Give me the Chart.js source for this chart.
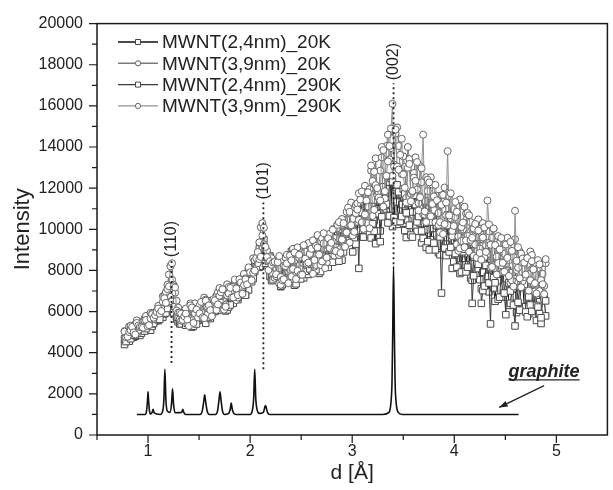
<!DOCTYPE html>
<html>
<head>
<meta charset="utf-8">
<title>MWNT diffraction</title>
<script src="https://cdn.jsdelivr.net/npm/chart.js@4.4.1/dist/chart.umd.min.js"></script>
<style>
  html, body { margin: 0; padding: 0; background: #fff; }
  canvas { display: block; }
</style>
</head>
<body>
<canvas id="xrdChart" width="613" height="490"></canvas>
<script>
// d spacing (Å) shared by the four MWNT scans
const dSpacing = [
  0.770, 0.785, 0.800, 0.815, 0.830, 0.845, 0.860, 0.875, 0.890, 0.905, 0.920, 0.935, 0.950, 0.965, 0.980, 0.995, 1.010, 1.025, 1.040, 1.055,
  1.070, 1.085, 1.100, 1.115, 1.130, 1.145, 1.160, 1.175, 1.190, 1.205, 1.220, 1.235, 1.250, 1.265, 1.280, 1.295, 1.310, 1.325, 1.340, 1.355,
  1.370, 1.385, 1.400, 1.415, 1.430, 1.445, 1.460, 1.475, 1.490, 1.505, 1.520, 1.535, 1.550, 1.565, 1.580, 1.595, 1.610, 1.625, 1.640, 1.655,
  1.670, 1.685, 1.700, 1.715, 1.730, 1.745, 1.760, 1.775, 1.790, 1.805, 1.820, 1.835, 1.850, 1.865, 1.880, 1.895, 1.910, 1.925, 1.940, 1.955,
  1.970, 1.985, 2.000, 2.015, 2.030, 2.045, 2.060, 2.075, 2.090, 2.105, 2.120, 2.135, 2.150, 2.165, 2.180, 2.195, 2.210, 2.225, 2.240, 2.255,
  2.270, 2.285, 2.300, 2.315, 2.330, 2.345, 2.360, 2.375, 2.390, 2.405, 2.420, 2.435, 2.450, 2.465, 2.480, 2.495, 2.510, 2.525, 2.540, 2.555,
  2.570, 2.585, 2.600, 2.615, 2.630, 2.645, 2.660, 2.675, 2.690, 2.705, 2.720, 2.735, 2.750, 2.765, 2.780, 2.795, 2.810, 2.825, 2.840, 2.855,
  2.870, 2.885, 2.900, 2.915, 2.930, 2.945, 2.960, 2.975, 2.990, 3.005, 3.020, 3.035, 3.050, 3.065, 3.080, 3.095, 3.110, 3.125, 3.140, 3.155,
  3.170, 3.185, 3.200, 3.215, 3.230, 3.245, 3.260, 3.275, 3.290, 3.305, 3.320, 3.335, 3.350, 3.365, 3.380, 3.395, 3.410, 3.425, 3.440, 3.455,
  3.470, 3.485, 3.500, 3.515, 3.530, 3.545, 3.560, 3.575, 3.590, 3.605, 3.620, 3.635, 3.650, 3.665, 3.680, 3.695, 3.710, 3.725, 3.740, 3.755,
  3.770, 3.785, 3.800, 3.815, 3.830, 3.845, 3.860, 3.875, 3.890, 3.905, 3.920, 3.935, 3.950, 3.965, 3.980, 3.995, 4.010, 4.025, 4.040, 4.055,
  4.070, 4.085, 4.100, 4.115, 4.130, 4.145, 4.160, 4.175, 4.190, 4.205, 4.220, 4.235, 4.250, 4.265, 4.280, 4.295, 4.310, 4.325, 4.340, 4.355,
  4.370, 4.385, 4.400, 4.415, 4.430, 4.445, 4.460, 4.475, 4.490, 4.505, 4.520, 4.535, 4.550, 4.565, 4.580, 4.595, 4.610, 4.625, 4.640, 4.655,
  4.670, 4.685, 4.700, 4.715, 4.730, 4.745, 4.760, 4.775, 4.790, 4.805, 4.820, 4.835, 4.850, 4.865, 4.880, 4.895
];

const mwnt24_20K = [
  4400, 4620, 4800, 4560, 4800, 4940, 4760, 4800, 5100, 5000, 4840, 4950, 5190, 5150, 5170, 5310, 5430, 5090, 5280, 5500,
  5610, 5560, 5560, 5950, 6000, 5730, 5890, 6050, 6270, 6400, 6250, 6040, 6160, 5960, 5620, 5510, 5400, 5570, 5700, 5415,
  5460, 5865, 5825, 5420, 5245, 5290, 6015, 6105, 5580, 5715, 6270, 6000, 5610, 5430, 6085, 6220, 5660, 5885, 6190, 6000,
  6710, 6510, 6200, 6250, 6640, 6590, 6030, 6080, 6920, 7120, 6660, 6410, 7210, 6860, 6580, 7280, 7150, 6800, 6950, 6800,
  7100, 7050, 8100, 7900, 7700, 8250, 8350, 8200, 8150, 8500, 9250, 9000, 8500, 8850, 8500, 7700, 7750, 8190, 8080, 7750,
  8150, 7990, 7210, 8570, 8460, 7420, 7550, 7630, 8100, 8580, 8800, 7280, 7350, 8550, 8370, 8290, 8040, 7640, 8820, 8500,
  7805, 8300, 8875, 8705, 8360, 9210, 9300, 7855, 7945, 8795, 9065, 9320, 9410, 8645, 8680, 8510, 9320, 10000, 8535, 9130,
  9450, 10150, 8500, 8900, 10150, 9350, 9450, 10150, 10900, 8900, 9480, 10780, 10360, 10260, 11240, 9640, 9620, 11120, 11200, 11100,
  9740, 9580, 11110, 10430, 9360, 11800, 10990, 9920, 10800, 11290, 11650, 10840, 10680, 12290, 12470, 10130, 10390, 12030, 11330, 10240,
  11720, 11200, 10300, 9940, 9600, 10440, 11660, 11300, 10840, 11680, 10140, 9900, 11600, 10280, 9340, 10780, 10680, 9120, 9980, 11300,
  9490, 10040, 10990, 10770, 10180, 8860, 8760, 9970, 10200, 9210, 9280, 10380, 10120, 9900, 8100, 8430, 9160, 9380, 9610, 7850,
  8260, 9580, 8820, 8270, 9380, 8940, 7630, 7520, 8630, 8960, 9300, 8090, 7550, 7110, 7910, 9120, 8920, 7710, 6960, 8390,
  8150, 7150, 6500, 7700, 7500, 8300, 8000, 6700, 6900, 7600, 8000, 6300, 6400, 7100, 7120, 7620, 5950, 6350, 7170, 7570,
  7400, 6230, 6240, 7320, 5890, 6430, 7350, 6990, 6200, 5570, 6570, 6480, 5420, 6860, 6690, 5790
];

const mwnt39_20K = [
  5050, 4875, 4855, 5280, 5310, 5135, 5165, 5390, 5570, 5095, 5250, 5450, 5515, 5665, 5790, 5490, 5440, 5940, 5900, 5625,
  5900, 6045, 6275, 6070, 6150, 6745, 6775, 6950, 7300, 7800, 8225, 7550, 7300, 6925, 6525, 6200, 5625, 5560, 5845, 5960,
  6150, 5700, 5650, 6400, 5450, 5600, 6400, 6000, 6160, 6310, 5970, 5670, 6680, 6580, 5850, 6150, 6520, 6470, 6350, 6100,
  6230, 6945, 7145, 6430, 6905, 6300, 6335, 7325, 7195, 6865, 6900, 7230, 7495, 6560, 6680, 7560, 7405, 7185, 7830, 7610,
  7480, 8075, 8010, 7910, 8590, 8485, 8115, 8355, 9365, 10100, 10300, 9270, 9025, 8955, 8445, 8685, 8595, 7815, 7640, 7720,
  8480, 7360, 7300, 8420, 8230, 8630, 8760, 7960, 8030, 7710, 9050, 8490, 7920, 9120, 8620, 8060, 7810, 9170, 8910, 8510,
  9330, 8820, 8360, 9465, 8185, 8270, 9720, 8530, 8790, 9555, 9315, 8210, 8385, 9575, 9780, 9355, 9400, 8720, 9125, 10060,
  8750, 9050, 10500, 10200, 10250, 10850, 9850, 9350, 11300, 10500, 9780, 11180, 11260, 10460, 10840, 10340, 11820, 12120, 10700, 11100,
  11950, 12850, 10650, 10950, 13450, 11650, 11800, 12850, 13500, 11100, 11500, 14050, 14600, 13400, 13950, 12600, 13150, 14650, 14950, 14050,
  12940, 12680, 13550, 13030, 11530, 14000, 13410, 11720, 11830, 12740, 13500, 11940, 11270, 13090, 12290, 10730, 10710, 12530, 11860, 10690,
  12530, 12170, 10940, 10340, 11630, 10790, 9850, 11650, 11670, 12030, 10680, 10200, 11610, 10530, 9660, 10980, 10590, 9270, 9650, 11450,
  9440, 9990, 11100, 10770, 9680, 8910, 10350, 10020, 8710, 9260, 9930, 10480, 9060, 10050, 10300, 8650, 9220, 9660, 9900, 8140,
  9590, 10030, 8120, 8670, 9670, 9340, 8250, 7920, 8810, 9360, 9590, 8490, 7400, 7510, 8640, 9520, 8020, 8130, 8930, 8820,
  7480, 7680, 8600, 8300, 7820, 8920, 8750, 7350, 6980, 8280, 8100, 7000, 8330, 7830, 7250, 8350
];

const mwnt24_290K = [
  4680, 4540, 4900, 4960, 4680, 4840, 4980, 4840, 4940, 5220, 5260, 5160, 5130, 5050, 5170, 5450, 5590, 5430, 5400, 5420,
  5710, 5730, 5600, 5620, 6040, 5940, 6050, 5930, 6150, 6430, 6730, 6490, 5940, 6240, 5740, 5720, 5540, 5400, 5740, 5720,
  5335, 5425, 5880, 5700, 6110, 6020, 5600, 5395, 5905, 5995, 5740, 5830, 6200, 6430, 5780, 5735, 6255, 5940, 6110, 6560,
  6110, 6060, 6550, 6800, 6390, 6490, 7080, 6880, 6220, 6320, 7110, 7260, 6860, 6710, 6680, 7130, 7400, 7450, 7700, 6800,
  7700, 7950, 7500, 7450, 7600, 7950, 8350, 8600, 9050, 8200, 9100, 9500, 8350, 8650, 8450, 8700, 7500, 7550, 7930, 8030,
  7770, 8090, 7230, 7310, 8480, 8240, 8370, 7570, 7560, 8920, 8980, 7860, 7850, 8810, 8230, 7590, 9020, 8780, 7960, 8280,
  9095, 8075, 8295, 8720, 7950, 8035, 9485, 9400, 8500, 8725, 8400, 9420, 9255, 8150, 9630, 9460, 8400, 8995, 9570, 10165,
  8450, 9950, 10000, 9400, 9850, 10450, 9900, 9450, 11000, 10300, 9480, 9280, 10360, 8100, 11340, 10340, 10220, 11720, 10600, 10300,
  10720, 10880, 10270, 9910, 9300, 10760, 11580, 9400, 10610, 12070, 11460, 11230, 10310, 10650, 12570, 12310, 10570, 10360, 12160, 11820,
  10380, 10620, 11960, 11720, 10800, 11260, 10200, 9720, 9620, 11660, 11200, 10360, 10620, 11100, 9920, 9560, 11380, 10780, 9400, 9000,
  10360, 10690, 9330, 9000, 10940, 10830, 9630, 6900, 10190, 9090, 8720, 10700, 8900, 9120, 10070, 9960, 8820, 8160, 10150, 9270,
  7920, 8910, 9030, 7930, 8160, 9590, 9380, 6400, 7740, 8950, 8410, 8300, 9190, 6400, 7020, 7240, 8250, 8800, 7390, 5400,
  8250, 7650, 7400, 8000, 6600, 6700, 8000, 8400, 6900, 5850, 8000, 7400, 7000, 7900, 6320, 5300, 7450, 6450, 6070, 7470,
  7230, 7320, 5980, 5750, 6710, 6320, 6010, 7180, 7290, 6300, 6220, 5900, 5700, 6850, 6610, 6520
];

const mwnt39_290K = [
  5025, 4750, 4780, 5005, 5085, 5260, 4990, 4890, 5445, 5320, 5250, 5250, 5215, 5565, 5590, 5290, 5340, 5665, 5875, 5700,
  5825, 5975, 6150, 5900, 6025, 6475, 6650, 6425, 7100, 7225, 8200, 8350, 7225, 7175, 6050, 5950, 5950, 5900, 5595, 5770,
  5900, 5600, 5300, 6300, 6200, 5450, 5900, 6100, 5710, 5910, 6470, 5720, 5680, 6530, 6250, 6300, 6070, 5770, 6600, 6550,
  6075, 6350, 6770, 6935, 7080, 6090, 6235, 6785, 6875, 7150, 6690, 6690, 7560, 7120, 6800, 7570, 7415, 6865, 7290, 7565,
  7325, 8150, 7910, 7525, 7885, 7995, 8600, 8895, 8550, 8660, 9700, 10075, 9145, 8650, 8015, 8455, 8275, 8385, 8420, 7815,
  8400, 8700, 7680, 7520, 7570, 8210, 8340, 7380, 8730, 8490, 8070, 8870, 7580, 7980, 8760, 7800, 7790, 9230, 8570, 8330,
  8380, 8805, 9050, 7835, 8500, 9190, 9110, 8770, 8265, 8435, 9810, 8110, 8625, 9560, 9085, 9340, 9980, 8960, 8940, 10215,
  10350, 8850, 9500, 10300, 9150, 9850, 11050, 10850, 10200, 9700, 9880, 10780, 10960, 11750, 11440, 11840, 10020, 10720, 11400, 11800,
  10050, 13100, 12350, 12800, 12150, 12000, 11550, 11400, 14000, 13850, 11850, 12600, 13300, 14050, 14900, 16100, 13050, 14850, 13050, 12900,
  13620, 14400, 12670, 12020, 11300, 12990, 13180, 11360, 11860, 12510, 12360, 13270, 10910, 11560, 12970, 14600, 10870, 10350, 12410, 12280,
  10630, 11230, 11600, 12160, 11410, 10210, 10350, 11190, 9770, 10250, 11300, 13800, 10670, 11750, 9920, 10160, 11330, 10850, 8950, 9070,
  10110, 10330, 9130, 9460, 10790, 10680, 9480, 9590, 10040, 10260, 8620, 9940, 8850, 8520, 9600, 10090, 8900, 11400, 10240, 9250,
  8170, 10040, 9230, 7800, 8360, 9020, 9580, 8370, 7940, 9260, 8610, 7730, 9390, 8950, 7220, 10900, 8470, 9130, 7620, 7180,
  8580, 8380, 7800, 8600, 7020, 7520, 8450, 8050, 7380, 6880, 8500, 8300, 7530, 7330, 6850, 8550
];

// graphite reference pattern
const graphiteD = [
  0.89, 0.97, 0.985, 0.995, 1.00, 1.005, 1.015, 1.025, 1.04, 1.05, 1.06,
  1.12, 1.14, 1.155, 1.165, 1.175, 1.19, 1.215, 1.23, 1.24, 1.25, 1.265,
  1.33, 1.34, 1.35, 1.37, 1.51, 1.53, 1.545, 1.555, 1.565, 1.58, 1.60,
  1.66, 1.68, 1.695, 1.705, 1.715, 1.73, 1.75, 1.79, 1.805, 1.815, 1.825, 1.84, 1.86,
  2.00, 2.02, 2.035, 2.045, 2.055, 2.07, 2.09, 2.13, 2.15, 2.17, 2.19,
  3.30, 3.36, 3.38, 3.39, 3.397, 3.405, 3.413, 3.42, 3.43, 3.45, 3.49, 4.63
];
const graphiteI = [
  1000, 1000, 1150, 1700, 2100, 1700, 1150, 1020, 1100, 1250, 1080,
  1000, 1100, 1700, 3200, 1700, 1150, 1100, 1500, 2250, 1500, 1080,
  1100, 1250, 1100, 1000, 1000, 1150, 1600, 1950, 1600, 1150, 1000,
  1000, 1150, 1700, 2100, 1700, 1150, 1000, 1050, 1250, 1550, 1250, 1050, 1000,
  1000, 1150, 1800, 3200, 1800, 1200, 1050, 1100, 1430, 1100, 1000,
  1000, 1100, 1600, 2600, 5000, 8200, 5000, 2600, 1600, 1100, 1000, 1000
];

// reflections marked with dotted guides
const peakLabels = ['(110)', '(101)', '(002)'];
const peakD = [1.23, 2.13, 3.405];
const peakTop = [8500, 11300, 17100];
const peakBottom = [3500, 3200, 8300];

const xMajor = [1, 2, 3, 4, 5];
const xMinor = [0.5, 1.5, 2.5, 3.5, 4.5];
const yMajor = [0, 2000, 4000, 6000, 8000, 10000, 12000, 14000, 16000, 18000, 20000];
const yMinor = [1000, 3000, 5000, 7000, 9000, 11000, 13000, 15000, 17000, 19000];

const FONT = "'Liberation Sans', Arial, sans-serif";
const INK = '#222';

const toPoints = (xs, ys) => ys.map((v, i) => ({ x: xs[i], y: v }));

const mwntSeries = [
  { label: 'MWNT(2,4nm)_20K', values: mwnt24_20K, line: '#111', mark: '#444', style: 'rect', r: 4.6, order: 4 },
  { label: 'MWNT(3,9nm)_20K', values: mwnt39_20K, line: '#7a7a7a', mark: '#5e5e5e', style: 'circle', r: 3.5, order: 2 },
  { label: 'MWNT(2,4nm)_290K', values: mwnt24_290K, line: '#3a3a3a', mark: '#4a4a4a', style: 'rect', r: 4.6, order: 3 },
  { label: 'MWNT(3,9nm)_290K', values: mwnt39_290K, line: '#929292', mark: '#686868', style: 'circle', r: 3.5, order: 1 }
];

const datasets = mwntSeries.map(s => ({
  label: s.label,
  data: toPoints(dSpacing, s.values),
  borderColor: s.line,
  borderWidth: 1,
  pointStyle: s.style,
  pointRadius: s.r,
  pointBorderWidth: 1,
  pointBorderColor: s.mark,
  pointBackgroundColor: '#fff',
  order: s.order
}));

datasets.push({
  label: 'graphite',
  data: toPoints(graphiteD, graphiteI),
  borderColor: '#111',
  borderWidth: 1.6,
  pointRadius: 0,
  cubicInterpolationMode: 'monotone',
  order: 0
});

peakD.forEach((d, i) => {
  datasets.push({
    label: peakLabels[i],
    data: [{ x: d, y: peakBottom[i] }, { x: d, y: peakTop[i] }],
    borderColor: '#222',
    borderWidth: 1.8,
    borderDash: [2, 3],
    pointRadius: 0,
    order: 0
  });
});

// axis box with outward major/minor ticks
const axisFrame = {
  id: 'axisFrame',
  afterDraw(chart) {
    const { ctx, chartArea: a, scales: { x, y } } = chart;
    ctx.save();
    ctx.strokeStyle = '#1a1a1a';
    ctx.lineWidth = 1.5;
    ctx.strokeRect(a.left, a.top, a.right - a.left, a.bottom - a.top);
    ctx.lineWidth = 1.2;
    ctx.beginPath();
    xMajor.forEach(v => { const p = x.getPixelForValue(v); ctx.moveTo(p, a.bottom); ctx.lineTo(p, a.bottom + 8); });
    xMinor.forEach(v => { const p = x.getPixelForValue(v); ctx.moveTo(p, a.bottom); ctx.lineTo(p, a.bottom + 5); });
    yMajor.forEach(v => { const p = y.getPixelForValue(v); ctx.moveTo(a.left, p); ctx.lineTo(a.left - 8, p); });
    yMinor.forEach(v => { const p = y.getPixelForValue(v); ctx.moveTo(a.left, p); ctx.lineTo(a.left - 5, p); });
    ctx.stroke();
    ctx.restore();
  }
};

// peak labels, graphite note and the series key
const annotations = {
  id: 'annotations',
  afterDraw(chart) {
    const { ctx, scales: { x, y } } = chart;
    ctx.save();
    ctx.fillStyle = INK;

    ctx.font = '16px ' + FONT;
    ctx.textAlign = 'left';
    ctx.textBaseline = 'middle';
    peakLabels.forEach((t, i) => {
      ctx.save();
      ctx.translate(x.getPixelForValue(peakD[i]), y.getPixelForValue(peakTop[i]) - 3);
      ctx.rotate(-Math.PI / 2);
      ctx.fillText(t, 0, 0);
      ctx.restore();
    });

    // graphite note with arrow
    const gx = x.getPixelForValue(4.88);
    const gy = y.getPixelForValue(3070);
    ctx.font = 'italic bold 18px ' + FONT;
    ctx.textAlign = 'center';
    ctx.fillText('graphite', gx, gy);
    const w = ctx.measureText('graphite').width;
    ctx.strokeStyle = INK;
    ctx.lineWidth = 1.3;
    ctx.beginPath();
    ctx.moveTo(gx - w / 2, gy + 8);
    ctx.lineTo(gx + w / 2, gy + 8);
    ctx.stroke();

    const ax0 = x.getPixelForValue(4.88), ay0 = y.getPixelForValue(2400);
    const ax1 = x.getPixelForValue(4.44), ay1 = y.getPixelForValue(1340);
    const ang = Math.atan2(ay1 - ay0, ax1 - ax0);
    ctx.beginPath();
    ctx.moveTo(ax0, ay0);
    ctx.lineTo(ax1, ay1);
    ctx.stroke();
    ctx.beginPath();
    ctx.moveTo(ax1, ay1);
    ctx.lineTo(ax1 - 9 * Math.cos(ang - 0.35), ay1 - 9 * Math.sin(ang - 0.35));
    ctx.lineTo(ax1 - 9 * Math.cos(ang + 0.35), ay1 - 9 * Math.sin(ang + 0.35));
    ctx.closePath();
    ctx.fill();

    // key
    ctx.font = '19px ' + FONT;
    ctx.textAlign = 'left';
    ctx.textBaseline = 'middle';
    mwntSeries.forEach((s, i) => {
      const ky = 42 + i * 21.3;
      ctx.strokeStyle = s.line;
      ctx.lineWidth = 1.4;
      ctx.beginPath();
      ctx.moveTo(118, ky);
      ctx.lineTo(158, ky);
      ctx.stroke();
      ctx.fillStyle = '#fff';
      ctx.strokeStyle = s.mark;
      ctx.lineWidth = 1;
      ctx.beginPath();
      if (s.style === 'rect') ctx.rect(135.5, ky - 2.5, 5, 5);
      else ctx.arc(138, ky, 2.6, 0, Math.PI * 2);
      ctx.fill();
      ctx.stroke();
      ctx.fillStyle = INK;
      ctx.fillText(s.label, 162, ky + 1);
    });
    ctx.restore();
  }
};

new Chart(document.getElementById('xrdChart'), {
  type: 'line',
  data: { datasets },
  options: {
    responsive: false,
    animation: false,
    events: [],
    layout: { padding: { top: 18, right: 1, left: 0, bottom: 0 } },
    plugins: { legend: { display: false }, tooltip: { enabled: false } },
    scales: {
      x: {
        type: 'linear',
        min: 0.5,
        max: 5.5,
        grid: { display: false, drawTicks: false },
        border: { display: false },
        ticks: { color: INK, font: { family: FONT, size: 16 }, padding: 7 },
        afterBuildTicks: s => { s.ticks = xMajor.map(v => ({ value: v })); },
        afterFit: s => { s.height = 55; },
        title: { display: true, text: 'd [Å]', color: INK, font: { family: FONT, size: 21 }, padding: { bottom: 4 } }
      },
      y: {
        min: 0,
        max: 20000,
        grid: { display: false, drawTicks: false },
        border: { display: false },
        ticks: { stepSize: 2000, color: INK, font: { family: FONT, size: 16 }, padding: 14, callback: v => String(v) },
        afterFit: s => { s.width = 97; },
        title: { display: true, text: 'Intensity', color: INK, font: { family: FONT, size: 22 }, padding: { top: 10 } }
      }
    }
  },
  plugins: [axisFrame, annotations]
});
</script>
</body>
</html>
